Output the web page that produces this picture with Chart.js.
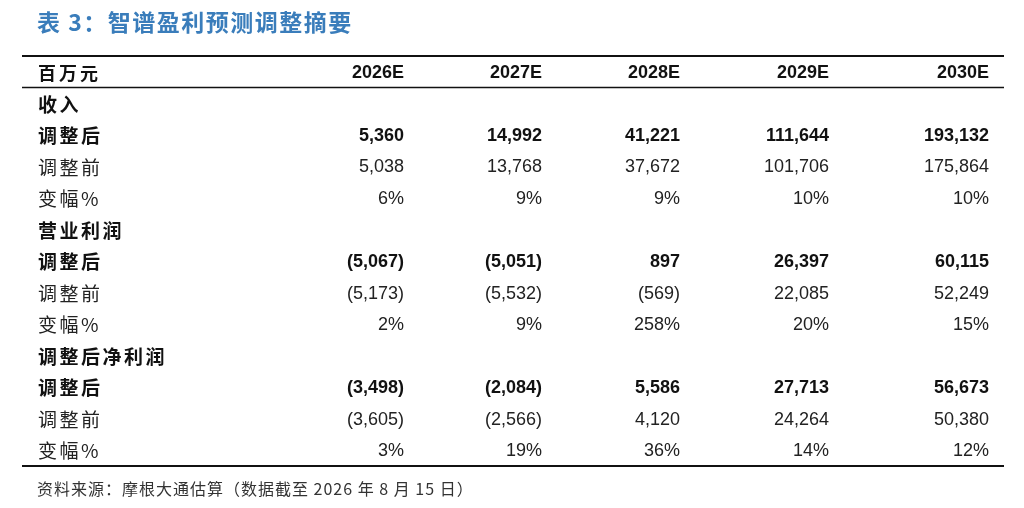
<!DOCTYPE html>
<html><head><meta charset="utf-8">
<script src="https://cdn.jsdelivr.net/npm/chart.js@4"></script>
<style>html,body{margin:0;padding:0;background:#fff;}#wrap{width:1024px;height:508px;}</style>
</head><body><div id="wrap"><canvas id="c" width="1024" height="508"></canvas></div>
<script>
const titleText = "表 3：智谱盈利预测调整摘要";
const sourceText = "资料来源：摩根大通估算（数据截至 2026 年 8 月 15 日）";
const unitLabel = "百万元";
const years = ["2026E", "2027E", "2028E", "2029E", "2030E"];
const rowLabels = ["收入", "调整后", "调整前", "变幅%", "营业利润", "调整后", "调整前", "变幅%", "调整后净利润", "调整后", "调整前", "变幅%"];
const rowBold = [true, true, false, false, true, true, false, false, true, true, false, false];
const rowKind = ["section", "num", "num", "pct", "section", "num", "num", "pct", "section", "num", "num", "pct"];
const revenueAfter = [5360, 14992, 41221, 111644, 193132];
const revenueBefore = [5038, 13768, 37672, 101706, 175864];
const revenueChg = [6, 9, 9, 10, 10];
const opAfter = [-5067, -5051, 897, 26397, 60115];
const opBefore = [-5173, -5532, -569, 22085, 52249];
const opChg = [2, 9, 258, 20, 15];
const niAfter = [-3498, -2084, 5586, 27713, 56673];
const niBefore = [-3605, -2566, 4120, 24264, 50380];
const niChg = [3, 19, 36, 14, 12];
const rowValues = [null, revenueAfter, revenueBefore, revenueChg, null, opAfter, opBefore, opChg, null, niAfter, niBefore, niChg];

// layout (x-scale units) for right edges of the year columns and label start
const colRight = [404, 542, 680, 829, 989];
const labelX = 38;

function fmtNum(v){
  const s = Math.abs(v).toLocaleString('en-US');
  return v < 0 ? '(' + s + ')' : s;
}

const yLabels = [unitLabel].concat(rowLabels.map((l,i)=> 'r'+i));

const NUM = '"Liberation Sans", Arial, sans-serif';
const CJK = '"Noto Sans CJK SC", "Noto Sans", sans-serif';

const tablePlugin = {
  id: 'tablePlugin',
  afterDraw(chart){
    const ctx = chart.ctx;
    const xs = chart.scales.x, ys = chart.scales.y;
    const ca = chart.chartArea;
    ctx.save();
    // title
    ctx.fillStyle = '#3a7dbb';
    ctx.font = 'bold 23px ' + CJK;
    ctx.textBaseline = 'middle';
    ctx.textAlign = 'left';
    ctx.letterSpacing = '1.5px';
    ctx.fillText(titleText, 37, 22);
    ctx.letterSpacing = '0px';
    // lines
    ctx.strokeStyle = '#111';
    ctx.lineWidth = 2;
    ctx.beginPath(); ctx.moveTo(ca.left, ca.top); ctx.lineTo(ca.right, ca.top); ctx.stroke();
    ctx.beginPath(); ctx.moveTo(ca.left, ca.bottom); ctx.lineTo(ca.right, ca.bottom); ctx.stroke();
    const hy = (ys.getPixelForValue(0) + ys.getPixelForValue(1)) / 2;
    ctx.lineWidth = 1.6;
    ctx.beginPath(); ctx.moveTo(ca.left, hy); ctx.lineTo(ca.right, hy); ctx.stroke();
    // header
    ctx.fillStyle = '#111';
    let y0 = ys.getPixelForValue(0);
    ctx.font = 'bold 18px ' + CJK;
    ctx.letterSpacing = '3px';
    ctx.textAlign = 'left';
    ctx.fillText(unitLabel, xs.getPixelForValue(labelX), y0 + 1);
    ctx.letterSpacing = '0px';
    ctx.font = 'bold 18px ' + NUM;
    ctx.textAlign = 'right';
    years.forEach((yr, j) => ctx.fillText(yr, xs.getPixelForValue(colRight[j]), y0 + 1));
    // rows
    rowLabels.forEach((lab, i) => {
      const y = ys.getPixelForValue(i + 1);
      ctx.textAlign = 'left';
      ctx.font = (rowBold[i] ? 'bold ' : '') + '19px ' + CJK;
      ctx.letterSpacing = '2.5px';
      ctx.fillStyle = rowBold[i] ? '#111' : '#222';
      ctx.fillText(lab, xs.getPixelForValue(labelX), y + 1);
      ctx.letterSpacing = '0px';
      const vals = rowValues[i];
      if (!vals) return;
      ctx.textAlign = 'right';
      ctx.font = (rowBold[i] ? 'bold ' : '') + '18px ' + NUM;
      vals.forEach((v, j) => {
        const t = rowKind[i] === 'pct' ? v + '%' : fmtNum(v);
        ctx.fillText(t, xs.getPixelForValue(colRight[j]), y + 1);
      });
    });
    // source
    ctx.textAlign = 'left';
    ctx.fillStyle = '#333';
    ctx.font = '16px ' + CJK;
    ctx.letterSpacing = '1px';
    ctx.fillText(sourceText, 37, 489);
    ctx.restore();
  }
};

new Chart(document.getElementById('c'), {
  type: 'scatter',
  data: { labels: yLabels, datasets: [{ data: [], pointRadius: 0 }] },
  options: {
    responsive: false,
    animation: false,
    devicePixelRatio: 1,
    layout: { padding: { left: 22, right: 20, top: 56, bottom: 42 } },
    plugins: { legend: { display: false }, tooltip: { enabled: false }, title: { display: false } },
    scales: {
      x: { type: 'linear', min: 22, max: 1004, display: false },
      y: { type: 'category', labels: yLabels, offset: true, display: false, grid: { display: false } }
    }
  },
  plugins: [tablePlugin]
});
</script>
</body></html>
